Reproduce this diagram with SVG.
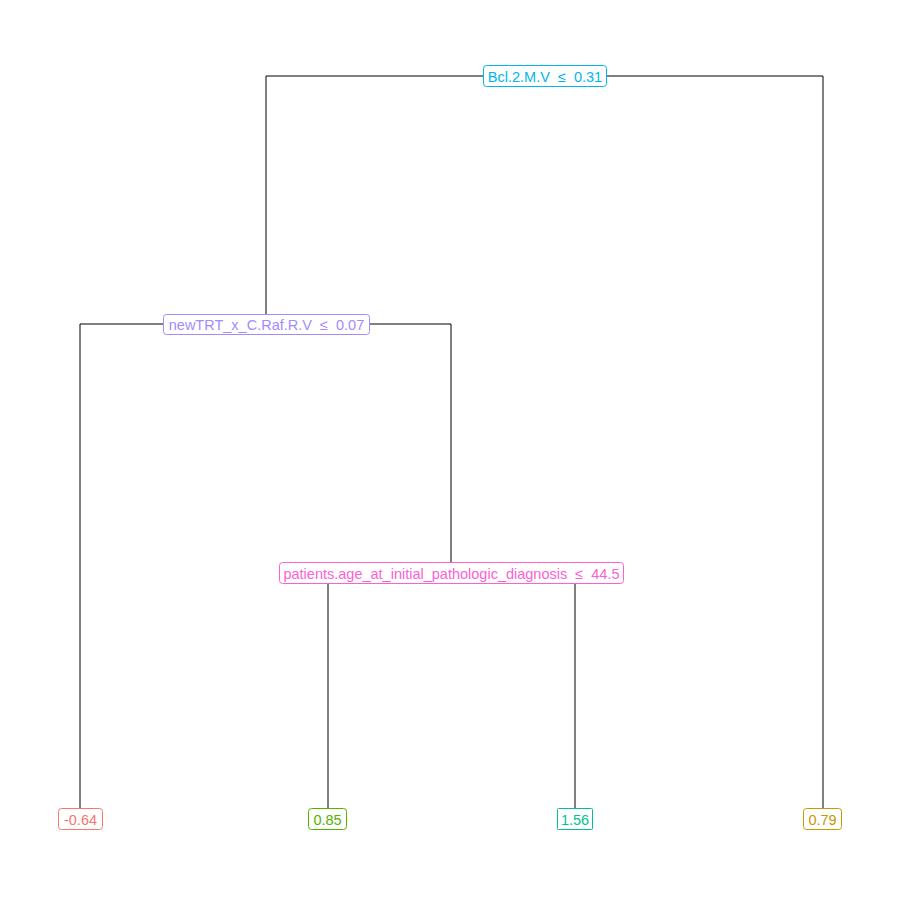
<svg xmlns="http://www.w3.org/2000/svg" width="900" height="900" viewBox="0 0 900 900">
<style>
.c{fill:none;stroke:#000;stroke-width:1}
.b{fill:#fff;stroke-width:1}
text{font-family:"Liberation Sans",Arial,sans-serif;font-size:14.5px;text-anchor:middle;dominant-baseline:central;white-space:pre}
</style>
<rect width="900" height="900" fill="#fff"/>
<g id="connectors">
<path class="c" d="M266,324 V76 H823 V808"/>
<path class="c" d="M80,808 V324 H451 V562"/>
<path class="c" d="M328,808 V573 H575 V808"/>
</g>
<g id="n1">
<rect class="b" x="483.5" y="65.5" width="123" height="21" rx="3" stroke="#00B6EB"/>
<text x="545" y="76.5" fill="#00B6EB" xml:space="preserve">Bcl.2.M.V  ≤  0.31</text>
</g>
<g id="n2">
<rect class="b" x="163.5" y="314.5" width="206" height="20" rx="3" stroke="#A58AFF"/>
<text x="266.5" y="325" fill="#A58AFF" xml:space="preserve">newTRT_x_C.Raf.R.V  ≤  0.07</text>
</g>
<g id="n3">
<rect class="b" x="279.5" y="562.5" width="344" height="21" rx="3" stroke="#FB61D7"/>
<text x="451.5" y="573.5" fill="#FB61D7" xml:space="preserve">patients.age_at_initial_pathologic_diagnosis  ≤  44.5</text>
</g>
<g id="l1">
<rect class="b" x="58.5" y="808.5" width="44" height="21" rx="3" stroke="#F8766D"/>
<text x="80.5" y="819.5" fill="#F8766D">-0.64</text>
</g>
<g id="l2">
<rect class="b" x="308.5" y="808.5" width="38" height="21" rx="3" stroke="#53B400"/>
<text x="327.5" y="819.5" fill="#53B400">0.85</text>
</g>
<g id="l3">
<rect class="b" x="557.5" y="808.5" width="35" height="21" rx="1" stroke="#00C094"/>
<text x="575" y="819.5" fill="#00C094">1.56</text>
</g>
<g id="l4">
<rect class="b" x="803.5" y="808.5" width="38" height="21" rx="3" stroke="#C49A00"/>
<text x="822.5" y="819.5" fill="#C49A00">0.79</text>
</g>
</svg>
